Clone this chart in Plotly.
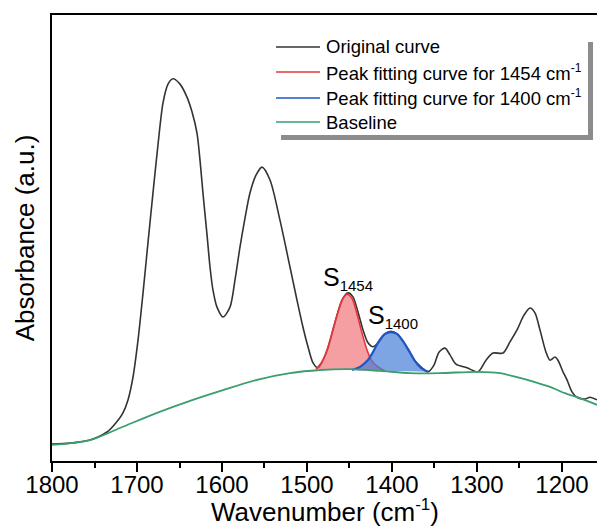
import plotly.graph_objects as go

# ---- data ----
orig_x = [1800, 1778.8, 1755.3, 1735.3, 1725.9, 1716.5, 1710.6, 1704.7, 1698.8, 1692.9,
          1687.1, 1681.2, 1675.3, 1669.4, 1663.5, 1657.6, 1649.4, 1641.2, 1635.3, 1629.4,
          1625.9, 1622.4, 1617.6, 1614.1, 1610.6, 1605.9, 1598.8, 1590.6, 1584.7, 1578.8,
          1572.9, 1567.1, 1560.0, 1552.9, 1543.5, 1531.8, 1520.0, 1511.8, 1504.7, 1498.8,
          1492.9, 1487.1, 1481.2, 1475.3, 1469.4, 1463.5, 1457.6, 1451.8, 1445.9, 1440.0,
          1434.1, 1428.2, 1422.4, 1415.3, 1408.2, 1401.2, 1394.1, 1387.1, 1380.0, 1372.9,
          1365.9, 1357.6, 1350.6, 1344.7, 1337.6, 1331.8, 1324.7, 1311.8, 1298.8, 1289.4,
          1281.2, 1269.4, 1261.2, 1252.9, 1244.7, 1237.6, 1231.8, 1225.9, 1218.8, 1214.1,
          1208.2, 1204.7, 1198.8, 1194.1, 1188.2, 1182.4, 1172.9, 1167.1, 1158.8]
orig_y = [0.038, 0.040, 0.047, 0.065, 0.083, 0.108, 0.137, 0.188, 0.271, 0.377,
          0.489, 0.601, 0.709, 0.803, 0.845, 0.857, 0.845, 0.816, 0.783, 0.735,
          0.675, 0.601, 0.507, 0.435, 0.383, 0.345, 0.323, 0.345, 0.406, 0.480,
          0.545, 0.601, 0.641, 0.659, 0.630, 0.540, 0.435, 0.361, 0.300, 0.256,
          0.220, 0.209, 0.226, 0.253, 0.294, 0.334, 0.365, 0.377, 0.368, 0.334,
          0.294, 0.265, 0.256, 0.267, 0.285, 0.291, 0.285, 0.269, 0.247, 0.224,
          0.211, 0.200, 0.215, 0.244, 0.253, 0.238, 0.217, 0.209, 0.200, 0.226,
          0.242, 0.242, 0.267, 0.294, 0.327, 0.343, 0.332, 0.294, 0.244, 0.226,
          0.233, 0.226, 0.200, 0.182, 0.155, 0.143, 0.139, 0.143, 0.137]

p1454_x = [1489.4, 1482.4, 1476.5, 1470.6, 1464.7, 1458.8, 1452.9, 1447.1, 1441.2,
           1435.3, 1429.4, 1423.5, 1416.5, 1408.2]
p1454_y = [0.206, 0.222, 0.249, 0.287, 0.327, 0.361, 0.374, 0.365, 0.330,
           0.287, 0.249, 0.224, 0.211, 0.202]

p1400_x = [1447.1, 1437.6, 1429.4, 1422.4, 1415.3, 1408.2, 1401.2, 1394.1, 1387.1,
           1380.0, 1372.9, 1365.9, 1357.6]
p1400_y = [0.204, 0.211, 0.224, 0.244, 0.269, 0.285, 0.289, 0.285, 0.269,
           0.247, 0.224, 0.209, 0.200]

base_x = [1800, 1755.3, 1720, 1676.5, 1637.6, 1598.8, 1558.8, 1520.0, 1484.7, 1449.4,
          1414.1, 1378.8, 1343.5, 1300.0, 1272.9, 1252.9, 1231.8, 1214.1, 1196.5, 1182.4,
          1158.8]
base_y = [0.036, 0.047, 0.074, 0.108, 0.135, 0.159, 0.182, 0.197, 0.204, 0.206,
          0.202, 0.197, 0.197, 0.200, 0.197, 0.188, 0.177, 0.166, 0.152, 0.143,
          0.126]

SUP = "<sup><span style='font-size:12px'>-1</span></sup>"
names = ["Original curve",
         "Peak fitting curve for 1454 cm" + SUP,
         "Peak fitting curve for 1400 cm" + SUP,
         "Baseline"]
colors = ["#333333", "#e3363c", "#1f55c4", "#3a9e6e"]
x_ticks = [1800, 1700, 1600, 1500, 1400, 1300, 1200]

FONT = "Arial, Liberation Sans, sans-serif"

fig = go.Figure()
fig.add_trace(go.Scatter(x=orig_x, y=orig_y, mode="lines", name=names[0],
                         line=dict(color=colors[0], width=1.6, shape="spline", smoothing=0.8)))
fig.add_trace(go.Scatter(x=p1454_x, y=p1454_y, mode="lines", name=names[1],
                         fill="toself", fillcolor="rgba(240,95,100,0.6)",
                         line=dict(color=colors[1], width=1.6, shape="spline", smoothing=0.8)))
fig.add_trace(go.Scatter(x=p1400_x, y=p1400_y, mode="lines", name=names[2],
                         fill="toself", fillcolor="rgba(70,125,215,0.7)",
                         line=dict(color=colors[2], width=2.2, shape="spline", smoothing=0.8)))
fig.add_trace(go.Scatter(x=base_x, y=base_y, mode="lines", name=names[3],
                         line=dict(color=colors[3], width=1.8, shape="spline", smoothing=0.8)))

W, H = 597, 528
L, R, T, B = 52, 0, 15, 67
pw, ph = W - L - R, H - T - B

def px(xp):
    return (xp - L) / pw

def py(yp):
    return (H - B - yp) / ph

# legend box: shadow + white box
fig.add_shape(type="rect", xref="paper", yref="paper", layer="above",
              x0=px(281), x1=px(593), y0=py(140), y1=py(42),
              fillcolor="#8c8c8c", line=dict(width=0))
fig.add_shape(type="rect", xref="paper", yref="paper", layer="above",
              x0=px(270), x1=px(588), y0=py(135), y1=py(32),
              fillcolor="white", line=dict(width=0))
row_y = [47, 72, 98, 122]
for name, col, ry in zip(names, colors, row_y):
    fig.add_shape(type="line", xref="paper", yref="paper", layer="above",
                  x0=px(276), x1=px(320), y0=py(ry), y1=py(ry),
                  line=dict(color=col, width=1.6))
    fig.add_annotation(x=px(324), y=py(ry), xref="paper", yref="paper",
                       xanchor="left", yanchor="middle", text=name, showarrow=False,
                       font=dict(family=FONT, size=18.5, color="black"))

fig.add_annotation(x=1483.5, y=0.41, xref="x", yref="y", xanchor="left", yanchor="middle",
                   text="S<sub><span style='font-size:15px'>1454</span></sub>", showarrow=False,
                   font=dict(family=FONT, size=25, color="black"))
fig.add_annotation(x=1430.6, y=0.325, xref="x", yref="y", xanchor="left", yanchor="middle",
                   text="S<sub><span style='font-size:15px'>1400</span></sub>", showarrow=False,
                   font=dict(family=FONT, size=25, color="black"))

# x-axis title
fig.add_annotation(x=px(325), y=py(511), xref="paper", yref="paper",
                   xanchor="center", yanchor="middle",
                   text="Wavenumber (cm<sup><span style='font-size:17px'>-1</span></sup>)",
                   showarrow=False,
                   font=dict(family=FONT, size=26, color="black"))

fig.update_layout(
    width=W, height=H,
    margin=dict(l=L, r=R, t=T, b=B, pad=0),
    paper_bgcolor="white", plot_bgcolor="white",
    font=dict(family=FONT, color="black"),
    showlegend=False,
    xaxis=dict(range=[1800, 1158.8], showgrid=False, zeroline=False,
               showline=True, linecolor="black", linewidth=2, mirror=True,
               ticks="outside", ticklen=9, tickwidth=1.5, tickcolor="black",
               tickvals=x_ticks, tickfont=dict(family=FONT, size=24, color="black"),
               ticklabelstandoff=-8,
               minor=dict(dtick=50, tick0=1800, ticks="outside", ticklen=5, tickwidth=1.5, tickcolor="black")),
    yaxis=dict(range=[0, 1], showgrid=False, zeroline=False,
               showline=True, linecolor="black", linewidth=2, mirror=False,
               ticks="", showticklabels=False,
               title=dict(text="Absorbance (a.u.)", standoff=8,
                          font=dict(family=FONT, size=26, color="black"))),
)

fig.write_html("out.html")
